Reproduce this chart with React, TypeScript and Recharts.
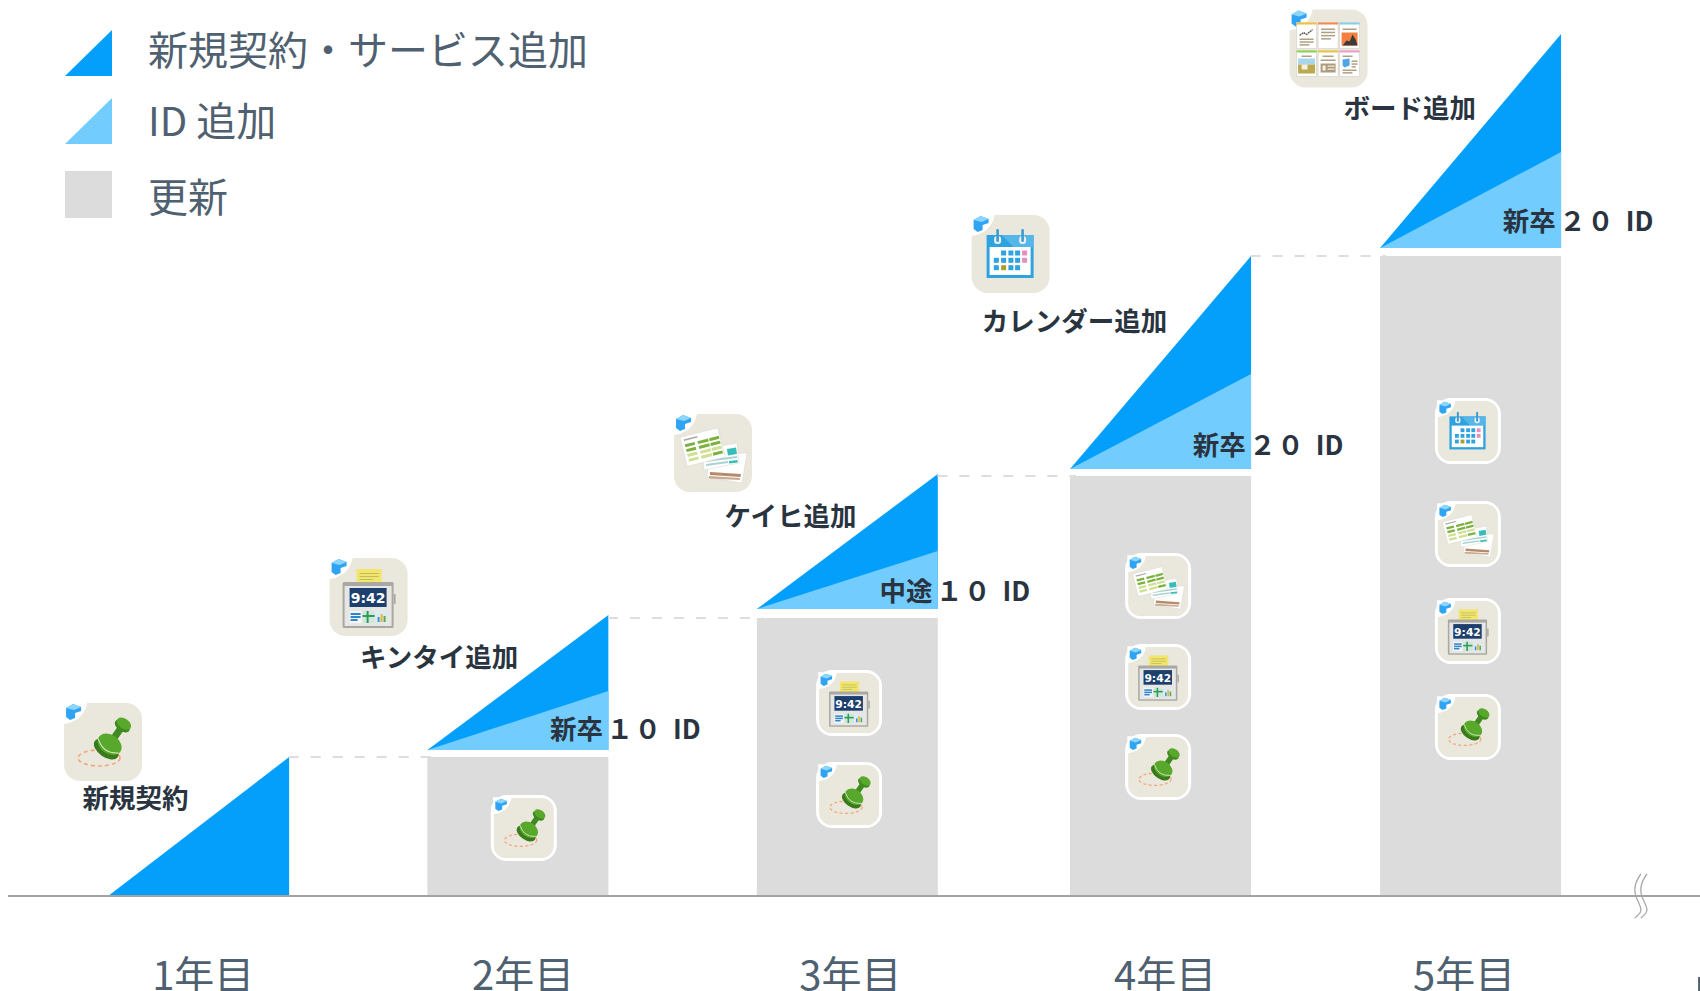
import React from 'react';
import { ComposedChart, Bar, XAxis, YAxis, Legend, ReferenceLine, ReferenceDot } from 'recharts';

const YEAR_LABELS = ['1年目', '2年目', '3年目', '4年目', '5年目'];
const YEAR_TICKS = [1.01, 2.016, 3.045, 4.035, 4.975];
const YEAR_POSITIONS = [0.994, 1.998, 3.034, 4.019, 4.994];
const RENEWAL = [0, 139, 278, 420, 640];
const ADDED_BASE = [0, 146, 287, 427, 648];
const ID_TOP = [0, 205, 345, 522, 744];
const NEW_TOP = [139, 281, 422, 640, 862];

const SERIES_NEW = '新規契約・サービス追加';
const SERIES_ID = 'ID 追加';
const SERIES_RENEWAL = '更新';

const ID_LABELS = [
  { year: 1, head: '新卒', first: '１', second: '０', value: 167 },
  { year: 2, head: '中途', first: '１', second: '０', value: 305 },
  { year: 3, head: '新卒', first: '２', second: '０', value: 451 },
  { year: 4, head: '新卒', first: '２', second: '０', value: 675 },
];
const SERVICE_LABELS = [
  { x: 0.797, value: 98, text: '新規契約' },
  { x: 1.752, value: 239, text: 'キンタイ追加' },
  { x: 2.857, value: 380, text: 'ケイヒ追加' },
  { x: 3.75, value: 575, text: 'カレンダー追加' },
  { x: 4.804, value: 788, text: 'ボード追加' },
];
const LARGE_ICONS = [
  { x: 0.695, value: 154, kind: 'stamp' },
  { x: 1.53, value: 299, kind: 'clock' },
  { x: 2.613, value: 443, kind: 'expense' },
  { x: 3.549, value: 642, kind: 'calendar' },
  { x: 4.549, value: 847.5, kind: 'board' },
];
const SMALL_ICONS = [
  { x: 2.018, value: 68, kind: 'stamp' },
  { x: 3.041, value: 193, kind: 'clock' },
  { x: 3.041, value: 101, kind: 'stamp' },
  { x: 4.013, value: 310, kind: 'expense' },
  { x: 4.013, value: 219, kind: 'clock' },
  { x: 4.013, value: 129, kind: 'stamp' },
  { x: 4.987, value: 465, kind: 'calendar' },
  { x: 4.987, value: 362, kind: 'expense' },
  { x: 4.987, value: 265, kind: 'clock' },
  { x: 4.987, value: 169, kind: 'stamp' },
];

const rows = YEAR_LABELS.map((year, i) => ({
  year,
  pos: YEAR_POSITIONS[i],
  renewal: RENEWAL[i],
  idRange: [ADDED_BASE[i], ID_TOP[i]],
  newRange: [ADDED_BASE[i], NEW_TOP[i]],
}));

const X_DOMAIN: [number, number] = [0.396, 5.717];
const BAR_W = 181;
const HALF = 0.2846;
const FONT = '"Noto Sans CJK JP", "Noto Sans", sans-serif';
const DARK = '#039FFB';
const LIGHT = '#72CCFD';
const GRAY = '#DCDCDC';
const TEXT = '#4F6170';
const INK = '#2A3440';

const Triangle = (p: any) => {
  const { x, y, width, height, fill } = p;
  if (!height) return null;
  return <polygon points={`${x},${y + height} ${x + width},${y} ${x + width},${y + height}`} fill={fill} />;
};

const Lines = ({ x, y, w, n, gap, color = '#AFA083', h = 1.5 }: any) => (
  <g>
    {Array.from({ length: n }).map((_, i) => (
      <rect key={i} x={x} y={y + i * gap} width={i === n - 1 ? w * 0.7 : w} height={h} fill={color} />
    ))}
  </g>
);

const StampArt = () => (
  <g>
    <ellipse cx={35} cy={55} rx={21} ry={8} fill="none" stroke="#F4A77B" strokeWidth={1.6} strokeDasharray="4 3" />
    <g transform="rotate(35 45 42)">
      <rect x={41.5} y={17} width={7} height={20} fill="#3F8A20" />
      <ellipse cx={45} cy={19} rx={8.5} ry={5} fill="#3F8A20" />
      <ellipse cx={45} cy={16} rx={8} ry={5} fill="#58A82C" />
      <ellipse cx={45} cy={47} rx={14} ry={8} fill="#3A7A1C" />
      <ellipse cx={45} cy={41} rx={13} ry={9.5} fill="#58A82C" />
      <path d="M32.5 43 Q45 53 57.5 43" fill="none" stroke="#D9EBC7" strokeWidth={1} />
    </g>
  </g>
);

const ClockArt = () => (
  <g>
    <rect x={27} y={11} width={25} height={14} fill="#F3E46B" />
    <Lines x={30} y={15} w={19} n={3} gap={3} color="#B9BE5E" h={1} />
    <rect x={13} y={24} width={51} height={46} rx={1.5} fill="#A9A8A3" />
    <rect x={15} y={28} width={47} height={40} fill="#E6E7E4" />
    <rect x={20} y={30} width={37} height={19} fill="#1D3F6E" />
    <text x={38.5} y={45} textAnchor="middle" fontFamily="'DejaVu Sans', sans-serif" fontWeight={700} fontSize={14} fill="#fff">9:42</text>
    <rect x={20} y={53} width={12} height={12} fill="#F4F6F6" />
    <Lines x={21} y={55} w={10} n={3} gap={3} color="#2F86CC" h={2} />
    <rect x={33} y={53} width={12} height={12} fill="#CFE8DA" />
    <rect x={37} y={53} width={2} height={12} fill="#2C9A58" />
    <rect x={33} y={57} width={12} height={2} fill="#2C9A58" />
    <rect x={46} y={53} width={11} height={12} fill="#DCEAF3" />
    <rect x={48} y={59} width={2} height={5} fill="#3F92D3" />
    <rect x={51} y={56} width={2} height={8} fill="#E8B32F" />
    <rect x={54} y={58} width={2} height={6} fill="#58A850" />
    <rect x={64} y={36} width={2} height={10} fill="#AAA9A4" />
  </g>
);

const ExpenseArt = () => (
  <g>
    <polygon points="36,40 73,39 68,69 33,63" fill="#fff" stroke="#D5D3CB" strokeWidth={0.5} />
    <polygon points="36,58 67,60 66.5,63 36,61" fill="#B58B6C" />
    <polygon points="35,62 66,64 65.8,66 35,64.5" fill="#C9A98F" />
    <polygon points="28,35 63,29 65,49 30,56" fill="#fff" stroke="#D5D3CB" strokeWidth={0.5} />
    <polygon points="53,35 62,33.5 63,40 54,41.5" fill="#37BDB9" />
    <polygon points="32,46 63,42 63.2,44 32.2,48" fill="#A9D3D2" />
    <polygon points="32,50 54,47 54.2,49 32.2,52" fill="#A9D3D2" />
    <polygon points="55,47 63.5,46 63.7,48.5 55.2,49.5" fill="#37BDB9" />
    <g transform="rotate(-14 29 33)">
      <rect x={9} y={18} width={39} height={30} fill="#fff" stroke="#D5D3CB" strokeWidth={0.5} />
      <rect x={12} y={21} width={14} height={1.5} fill="#A8A8A8" />
      {[26, 31, 36, 41].map((y, r) => [12, 25, 37].map((x, c) => (
        <rect key={`${r}-${c}`} x={x} y={y} width={c === 1 ? 11 : 10} height={3} fill={r < 2 ? '#7DB13F' : (c === 2 && r === 3 ? '#7DB13F' : '#CFE094')} />
      )))}
    </g>
  </g>
);

const CAL_CELLS: [number, number, string][] = [
  [32, 38, '#2FA3E0'], [39.3, 38, '#2FA3E0'], [46, 38, '#2FA3E0'], [53, 38, '#E58FBE'],
  [24.7, 45.3, '#2FA3E0'], [32, 45.3, '#2FA3E0'], [39.3, 45.3, '#2FA3E0'], [46, 45.3, '#2FA3E0'], [53, 45.3, '#E58FBE'],
  [24.7, 52.7, '#2FA3E0'], [32, 52.7, '#A9A02A'], [39.3, 52.7, '#2FA3E0'], [46, 52.7, '#2FA3E0'],
];
const CalendarArt = () => (
  <g>
    <rect x={15} y={20} width={47} height={43} fill="#2FA3E0" />
    <polygon points="30,20 62,20 62,32 42,32" fill="#55B6EA" />
    <rect x={18} y={32} width={41} height={28} fill="#fff" />
    {[26, 51].map((x) => (
      <g key={x}>
        <rect x={x - 3.5} y={21} width={7} height={8} rx={3} fill="#E9EEF0" />
        <rect x={x - 1.3} y={14} width={2.6} height={13} rx={1.3} fill="#3C9CD0" />
      </g>
    ))}
    {CAL_CELLS.map(([x, y, c], i) => <rect key={i} x={x - 2.5} y={y - 2.5} width={5} height={5} fill={c} />)}
  </g>
);

const SHEETS: [number, number, string][] = [
  [7, 13, '#EFC23A'], [28.5, 13, '#F3884D'], [50, 13, '#86CFEA'],
  [7, 41, '#8ED04F'], [28.5, 41, '#EFC23A'], [50, 41, '#EE9BD0'],
];
const BoardArt = () => (
  <g>
    {SHEETS.map(([x, y, c], i) => (
      <g key={i}>
        <rect x={x} y={y} width={20} height={26} fill="#fff" stroke="#C9C7BE" strokeWidth={0.5} />
        <rect x={x} y={y} width={20} height={2} fill={c} />
      </g>
    ))}
    <path d="M10 26 L14 23 L17 25 L23 20" fill="none" stroke="#55554C" strokeWidth={1.3} strokeDasharray="2 0.6" />
    <Lines x={10} y={29} w={14} n={3} gap={2.8} />
    <Lines x={31.5} y={19} w={14} n={4} gap={3.2} />
    <rect x={53} y={19} width={14} height={1.5} fill="#AFA083" />
    <rect x={52} y={23} width={16} height={13} fill="#F2803E" />
    <polygon points="53,36 57,31 60,32 63,25 66,30 68,36" fill="#3E3A35" />
    <rect x={12} y={46} width={10} height={1.5} fill="#AFA083" />
    <rect x={8.5} y={49} width={17} height={6} fill="#A9D6EA" />
    <rect x={8.5} y={55} width={17} height={9} fill="#BBA84F" />
    <rect x={12} y={55} width={6} height={5} fill="#F4F0E2" />
    <rect x={33} y={46} width={11} height={1.5} fill="#AFA083" />
    <rect x={31} y={50} width={15} height={1.5} fill="#AFA083" />
    <rect x={31} y={54} width={15} height={9} fill="#AD9B7D" />
    <rect x={33} y={56} width={3} height={5} fill="#F4F0E2" />
    <rect x={38} y={56} width={7} height={1.2} fill="#F4F0E2" />
    <rect x={38} y={59} width={7} height={1.2} fill="#F4F0E2" />
    <rect x={53} y={46} width={10} height={1.5} fill="#AFA083" />
    <polygon points="53,50 60,49 60,56 55,58 53,56" fill="#4FA6E4" />
    <Lines x={62} y={51} w={6} n={3} gap={2.8} />
    <Lines x={53} y={60} w={14} n={2} gap={2.6} />
  </g>
);

const ART: Record<string, () => React.ReactElement> = {
  stamp: StampArt, clock: ClockArt, expense: ExpenseArt, calendar: CalendarArt, board: BoardArt,
};

const AppIcon = ({ cx, cy, kind, small }: any) => {
  const Art = ART[kind];
  const size = small ? 60 : 78;
  const k = size / 78;
  const r = small ? 13 : 16;
  return (
    <g transform={`translate(${cx - size / 2},${cy - size / 2})`}>
      {small && <rect x={-3} y={-3} width={size + 6} height={size + 6} rx={r + 3} fill="#fff" />}
      <g transform={`scale(${k})`}>
        <rect x={0} y={0} width={78} height={78} rx={16} fill="#EAE8DC" />
        <path d="M-1 -1 H23 C22 11 12 20 -1 21 Z" fill="#fff" />
        <g transform="translate(2,-1)">
          <polygon points="0,6 7,2 15,5 15,9 9,11 9,16 4,18 0,15" fill="#2FA4F5" />
          <polygon points="0,6 7,2 15,5 8,8" fill="#8CD5FB" />
        </g>
        <Art />
      </g>
    </g>
  );
};

const LEGEND_ORDER = [SERIES_NEW, SERIES_ID, SERIES_RENEWAL];
const LEGEND_TOPS = [30, 98, 171];
const LEGEND_TEXT_TOPS = [18, 89, 165];
const LegendBox = ({ payload }: any) => {
  const items = [...(payload || [])].sort((a, b) => LEGEND_ORDER.indexOf(a.value) - LEGEND_ORDER.indexOf(b.value));
  return (
    <div style={{ position: 'relative', width: 640, height: 230, fontFamily: FONT, color: TEXT, fontSize: 40 }}>
      {items.map((it: any, i: number) => (
        <div key={it.value}>
          <svg width={47} height={47} style={{ position: 'absolute', left: 65, top: LEGEND_TOPS[i] }}>
            {it.value === SERIES_RENEWAL
              ? <rect width={47} height={47} fill={it.color} />
              : <polygon points="0,46 47,0 47,46" fill={it.color} />}
          </svg>
          <span style={{ position: 'absolute', left: 148, top: LEGEND_TEXT_TOPS[i], lineHeight: '60px', whiteSpace: 'nowrap' }}>{it.value}</span>
        </div>
      ))}
    </div>
  );
};

const YearTick = ({ x, index }: any) => (
  <text x={x} y={990} textAnchor="middle" fontFamily={FONT} fontSize={40} fill={TEXT}>{YEAR_LABELS[index]}</text>
);

const BoldText = ({ cx, cy, text }: any) => (
  <text x={cx} y={cy + 9.5} textAnchor="middle" fontFamily={FONT} fontWeight={700} fontSize={26.5} fill={INK}>{text}</text>
);

const IdText = ({ cx, cy, head, first, second }: any) => (
  <text x={cx} y={cy + 9.5} fontFamily={FONT} fontWeight={700} fontSize={26.5} fill={INK}>
    <tspan>{head}</tspan>
    <tspan dx={3.5}>{first}</tspan>
    <tspan dx={1.5}>{second}</tspan>
    <tspan dx={12}>ID</tspan>
  </text>
);

const BreakMark = ({ cx, cy }: any) => (
  <g transform={`translate(${cx},${cy})`} fill="none" stroke="#A8A8A8" strokeWidth={1.3}>
    <path d="M0,-22 C-8,-11 -7,-3 -3,5 C1,13 2,16 -6,22" />
    <path transform="translate(6,0)" d="M0,-22 C-8,-11 -7,-3 -3,5 C1,13 2,16 -6,22" />
  </g>
);

const EdgeStub = ({ cx, cy }: any) => <rect x={cx} y={cy} width={3} height={14} fill={TEXT} />;

export default function App() {
  return (
    <div style={{ position: 'absolute', left: 0, top: 0, width: 1700, height: 991, overflow: 'hidden', background: '#fff' }}>
      <ComposedChart width={1700} height={991} data={rows} margin={{ top: 0, right: 0, bottom: 0, left: 8 }}>
        <YAxis hide domain={[0, 896]} type="number" allowDataOverflow />
        <XAxis
          dataKey="pos"
          type="number"
          domain={X_DOMAIN}
          allowDataOverflow
          ticks={YEAR_TICKS}
          interval={0}
          height={95}
          tickLine={false}
          axisLine={{ stroke: '#A3A3A3', strokeWidth: 2 }}
          tick={<YearTick />}
        />
        <XAxis xAxisId="added" dataKey="pos" type="number" domain={X_DOMAIN} allowDataOverflow hide />
        <XAxis xAxisId="ids" dataKey="pos" type="number" domain={X_DOMAIN} allowDataOverflow hide />
        <Legend
          layout="vertical"
          align="center"
          verticalAlign="middle"
          content={<LegendBox />}
          wrapperStyle={{ left: 0, top: 0, width: 640, height: 230 }}
        />
        <Bar name={SERIES_RENEWAL} dataKey="renewal" fill={GRAY} barSize={BAR_W} isAnimationActive={false} />
        <Bar name={SERIES_NEW} xAxisId="added" dataKey="newRange" fill={DARK} barSize={BAR_W} shape={<Triangle />} isAnimationActive={false} />
        <Bar name={SERIES_ID} xAxisId="ids" dataKey="idRange" fill={LIGHT} barSize={BAR_W} shape={<Triangle />} isAnimationActive={false} />

        {YEAR_POSITIONS.slice(0, -1).map((p, i) => (
          <ReferenceLine
            key={i}
            ifOverflow="visible"
            segment={[{ x: p + HALF, y: RENEWAL[i + 1] }, { x: YEAR_POSITIONS[i + 1] - HALF + 0.02, y: RENEWAL[i + 1] }]}
            stroke="#DDDDDD"
            strokeWidth={2}
            strokeDasharray="10 12"
          />
        ))}

        {LARGE_ICONS.map((d, i) => (
          <ReferenceDot key={`l${i}`} x={d.x} y={d.value} ifOverflow="visible" shape={(p: any) => <AppIcon {...p} kind={d.kind} />} />
        ))}
        {SMALL_ICONS.map((d, i) => (
          <ReferenceDot key={`s${i}`} x={d.x} y={d.value} ifOverflow="visible" shape={(p: any) => <AppIcon {...p} kind={d.kind} small />} />
        ))}
        {SERVICE_LABELS.map((d, i) => (
          <ReferenceDot key={`t${i}`} x={d.x} y={d.value} ifOverflow="visible" shape={(p: any) => <BoldText {...p} text={d.text} />} />
        ))}
        {ID_LABELS.map((d, i) => (
          <ReferenceDot key={`i${i}`} x={YEAR_POSITIONS[d.year] + HALF - 0.182} y={d.value} ifOverflow="visible" shape={(p: any) => <IdText {...p} head={d.head} first={d.first} second={d.second} />} />
        ))}
        <ReferenceDot x={5.531} y={0} ifOverflow="visible" shape={(p: any) => <BreakMark {...p} />} />
        <ReferenceDot x={5.711} y={-81} ifOverflow="visible" shape={(p: any) => <EdgeStub {...p} />} />
      </ComposedChart>
    </div>
  );
}
